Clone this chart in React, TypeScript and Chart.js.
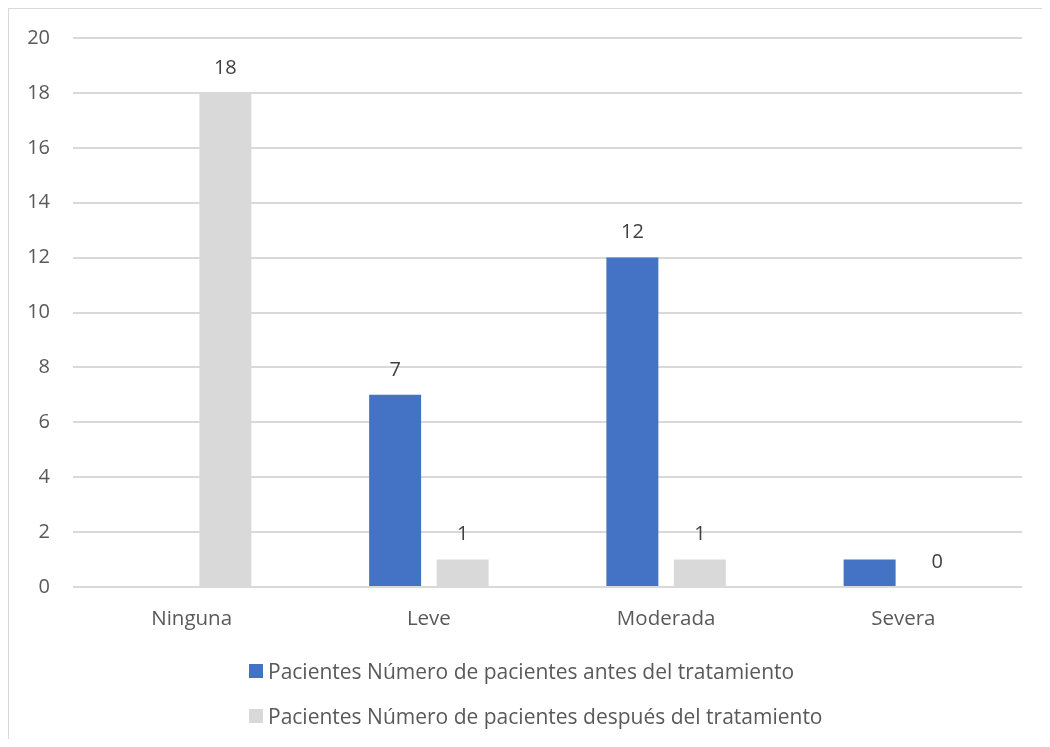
import React, { useEffect, useRef } from "react";
import { Chart, registerables } from "chart.js";

Chart.register(...registerables);

const categories = ["Ninguna", "Leve", "Moderada", "Severa"];
const seriesNames = [
  "Pacientes Número de pacientes antes del tratamiento",
  "Pacientes Número de pacientes después del tratamiento",
];
const antesValues: (number | null)[] = [null, 7, 12, 1];
const despuesValues: (number | null)[] = [18, 1, 1, 0];
const antesLabels: (string | null)[] = [null, "7", "12", null];
const despuesLabels: (string | null)[] = ["18", "1", "1", "0"];
const yTicks = [0, 2, 4, 6, 8, 10, 12, 14, 16, 18, 20];

const colors = ["#4472C4", "#D9D9D9"];
const FONT = "'Open Sans', sans-serif";
const TEXT = "#595959";

const dataLabelPlugin = {
  id: "dataLabels",
  afterDatasetsDraw(chart: any) {
    const ctx = chart.ctx;
    const labelSets = [antesLabels, despuesLabels];
    ctx.save();
    ctx.font = `20px ${FONT}`;
    ctx.fillStyle = "#404040";
    ctx.textAlign = "center";
    ctx.textBaseline = "middle";
    chart.data.datasets.forEach((ds: any, di: number) => {
      const meta = chart.getDatasetMeta(di);
      meta.data.forEach((el: any, i: number) => {
        const lbl = labelSets[di][i];
        if (lbl == null) return;
        ctx.fillText(lbl, el.x, el.y - 25);
      });
    });
    ctx.restore();
  },
};

export default function App() {
  const ref = useRef<HTMLCanvasElement>(null);
  useEffect(() => {
    if (!ref.current) return;
    const chart = new Chart(ref.current, {
      type: "bar",
      data: {
        labels: categories,
        datasets: [
          {
            label: seriesNames[0],
            data: antesValues,
            backgroundColor: colors[0],
            categoryPercentage: 0.569,
            barPercentage: 0.77,
          },
          {
            label: seriesNames[1],
            data: despuesValues,
            backgroundColor: colors[1],
            categoryPercentage: 0.569,
            barPercentage: 0.77,
          },
        ],
      },
      options: {
        animation: false,
        responsive: false,
        devicePixelRatio: 1,
        layout: { padding: { left: 0, right: 28, top: 29, bottom: 102 } },
        plugins: {
          legend: { display: false },
          tooltip: { enabled: false },
        },
        scales: {
          x: {
            grid: { display: false },
            border: { display: false },
            ticks: { color: TEXT, font: { family: FONT, size: 20.5 }, padding: 12 },
            afterFit: (s: any) => {
              s.height = 50;
              s.paddingLeft = 0;
              s.paddingRight = 0;
            },
          },
          y: {
            min: 0,
            max: 20,
            afterBuildTicks: (s: any) => {
              s.ticks = yTicks.map((v) => ({ value: v }));
            },
            grid: { color: "#D9D9D9", lineWidth: 2, drawTicks: false },
            border: { display: false },
            ticks: { color: TEXT, font: { family: FONT, size: 20 }, padding: 23 },
            afterFit: (s: any) => {
              s.width = 64;
              s.paddingTop = 0;
              s.paddingBottom = 0;
            },
          },
        },
      },
      plugins: [dataLabelPlugin],
    });
    return () => chart.destroy();
  }, []);

  return (
    <div
      style={{
        position: "relative",
        width: 1042,
        height: 731,
        boxSizing: "border-box",
        borderTop: "1px solid #D9D9D9",
        borderLeft: "1px solid #D9D9D9",
        fontFamily: FONT,
      }}
    >
      <canvas ref={ref} width={1041} height={730} style={{ position: "absolute", left: 0, top: 0 }} />
      <div style={{ position: "absolute", left: 240, top: 639 }}>
        {seriesNames.map((n, i) => (
          <div key={n} style={{ display: "flex", alignItems: "center", height: 45 }}>
            <span style={{ display: "inline-block", width: 14, height: 14, background: colors[i], marginRight: 5 }} />
            <span style={{ fontSize: 21, color: TEXT, whiteSpace: "nowrap" }}>{n}</span>
          </div>
        ))}
      </div>
    </div>
  );
}
